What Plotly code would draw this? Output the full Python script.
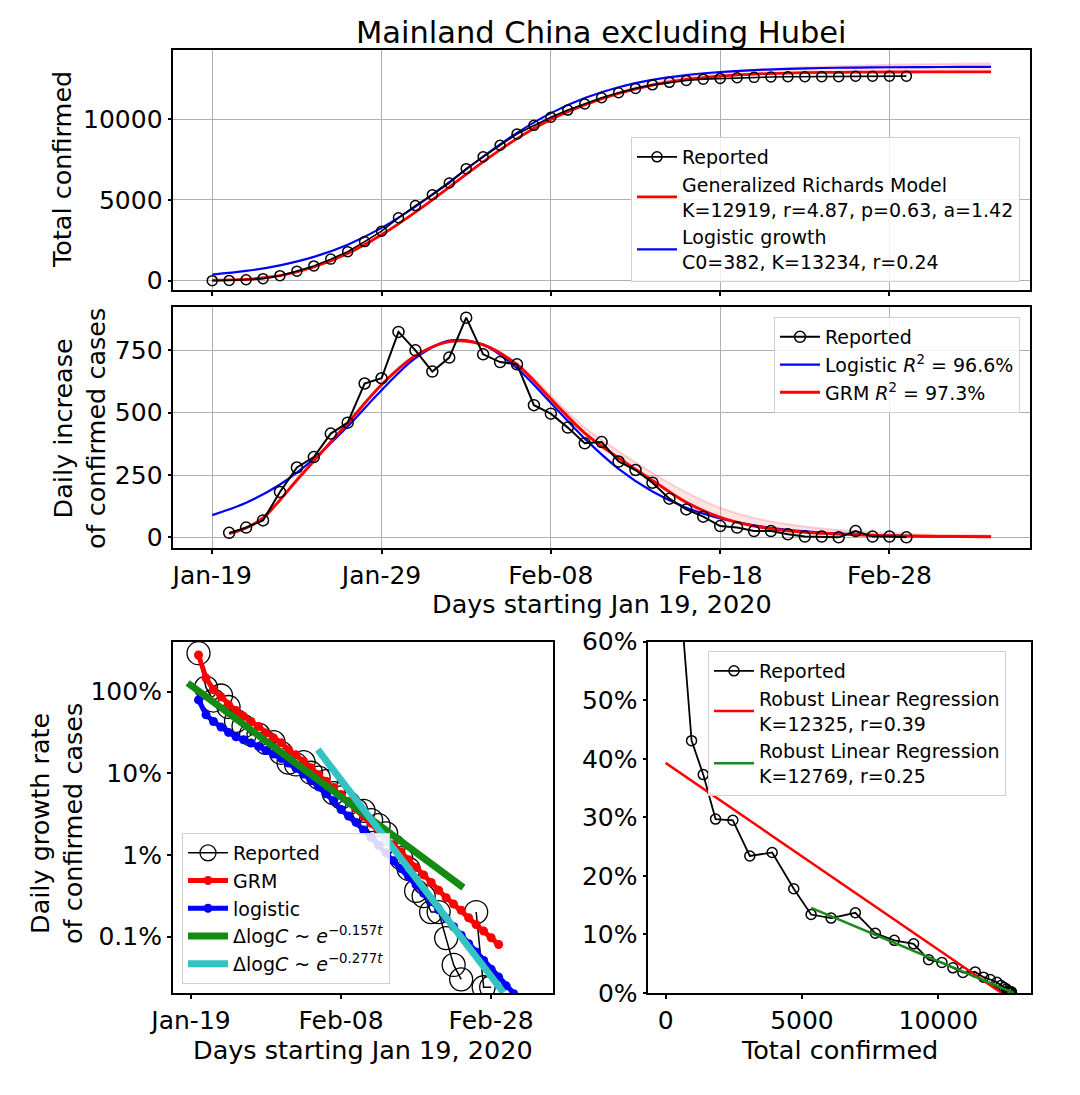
import plotly.graph_objects as go

FONT = "DejaVu Sans"

# ---------------- data ----------------
# Panel 1: cumulative confirmed cases (day 0 = Jan 19, 2020)
days_total = list(range(0, 42))
total_reported = [1, 19, 58, 127, 310, 592, 916, 1335, 1798, 2420, 3062, 3892, 4647, 5317,
                  6043, 6930, 7669, 8377, 9076, 9609, 10109, 10552, 10932, 11317, 11623,
                  11895, 12115, 12271, 12384, 12468, 12513, 12552, 12577, 12602, 12614,
                  12617, 12620, 12620, 12645, 12648, 12651, 12651]
model_days_top = list(range(0, 47, 2))
grm_total = [30, 85, 309, 848, 1688, 2840, 4243, 5793, 7353, 8785, 9968, 10868, 11580,
             12100, 12450, 12660, 12780, 12845, 12880, 12900, 12910, 12915, 12918, 12919]
grm_total_upper = [30, 85, 309, 848, 1688, 2840, 4243, 5793, 7353, 8800, 10010, 10950, 11680,
                   12210, 12600, 12860, 13030, 13150, 13240, 13300, 13350, 13390, 13420, 13440]
logistic_total = [382, 606, 953, 1475, 2231, 3267, 4582, 6103, 7681, 9142, 10365, 11299,
                  11966, 12419, 12718, 12910, 13031, 13108, 13156, 13185, 13204, 13215,
                  13222, 13227]

# Panel 2: daily increase
days_daily = list(range(1, 42))
daily_reported = [18, 39, 68, 182, 280, 322, 416, 460, 617, 638, 824, 750, 665, 721, 881,
                  734, 703, 694, 530, 496, 440, 377, 382, 304, 270, 219, 155, 112, 83, 45,
                  39, 25, 25, 12, 3, 3, 0, 25, 3, 3, 0]
logistic_daily_days = list(range(0, 47, 2))
logistic_daily = [89, 139, 212, 315, 445, 590, 719, 789, 773, 678, 539, 396, 275, 184, 119,
                  76, 48, 30, 19, 12, 7, 4.5, 2.8, 1.7]
grm_daily_days = [1, 2, 3, 4, 5, 6, 8, 10, 12, 14, 16, 18, 20, 22, 24, 26, 28, 30, 32, 34,
                  36, 38, 40, 42, 44, 46]
grm_daily = [15, 38, 78, 150, 230, 306, 458, 612, 728, 785, 772, 692, 555, 418, 318, 228,
             140, 80, 45, 26, 16, 10, 6, 4, 3, 2]
grm_daily_upper = [15, 38, 78, 150, 230, 306, 458, 612, 728, 785, 775, 700, 570, 440, 345,
                   258, 180, 118, 78, 52, 35, 24, 17, 12, 9, 7]

# Panel 3: daily growth rate (log scale)
rate_days = list(range(1, 42))
rate_reported = [2.944, 1.116, 0.776, 0.894, 0.647, 0.437, 0.376, 0.298, 0.297, 0.2355,
                 0.2398, 0.1773, 0.1346, 0.128, 0.137, 0.1013, 0.0883, 0.0801, 0.0571,
                 0.0507, 0.0429, 0.0353, 0.0346, 0.0267, 0.0231, 0.0184, 0.0128, 0.00915,
                 0.00673, 0.00363, 0.00313, 0.002, 0.002, 0.00096, 0.00045, 0.0003, None,
                 0.002, 0.00024, 0.00024, None]
grm_rate_days = list(range(1, 42))
grm_rate = [2.8, 1.46, 1.05, 0.86, 0.69, 0.586, 0.50, 0.43, 0.374, 0.31, 0.27, 0.236,
            0.194, 0.168, 0.14, 0.117, 0.096, 0.08, 0.067, 0.055, 0.045, 0.037, 0.030,
            0.0245, 0.020, 0.0164, 0.0133, 0.0108, 0.0087, 0.007, 0.0057, 0.0046, 0.0037,
            0.003, 0.0025, 0.0021, 0.0017, 0.0014, 0.00117, 0.00097, 0.0008]
logistic_rate_days = list(range(1, 45))
logistic_rate = [0.79, 0.52, 0.43, 0.367, 0.316, 0.28, 0.257, 0.234, 0.213, 0.19, 0.172,
                 0.152, 0.133, 0.115, 0.098, 0.082, 0.068, 0.056, 0.046, 0.036, 0.030,
                 0.025, 0.0202, 0.0163, 0.0131, 0.0106, 0.0085, 0.0068, 0.0054, 0.0043,
                 0.0034, 0.0027, 0.00213, 0.00168, 0.00132, 0.00104, 0.00082, 0.00065,
                 0.00051, 0.0004, 0.00032, 0.00025, 0.0002, 0.00016]
fit157_days = [-0.44, 36.3]
fit157_rate = [1.27, 0.00398]
fit277_days = [16.9, 41.64]
fit277_rate = [0.194, 0.000207]

# Panel 4: growth rate vs total confirmed
rr_total = [19, 58, 126, 308, 588, 952, 1380, 1832, 2466, 3088, 3907, 4700, 5336, 6069,
            6960, 7692, 8388, 9095, 9645, 10134, 10537, 10904, 11355, 11660, 11905, 12150,
            12300, 12410, 12500, 12545, 12585, 12610, 12635, 12647, 12650, 12653, 12653,
            12678, 12681, 12684, 12684]
rr_rate = [2.944, 1.116, 0.776, 0.894, 0.647, 0.431, 0.373, 0.297, 0.295, 0.234, 0.240,
           0.178, 0.134, 0.128, 0.137, 0.102, 0.090, 0.084, 0.057, 0.052, 0.043, 0.035,
           0.036, 0.027, 0.023, 0.0184, 0.0128, 0.0092, 0.0067, 0.0036, 0.0031, 0.0020,
           0.0020, 0.0010, 0.0002, 0.0002, 0.0, 0.0020, 0.0002, 0.0002, 0.0]
rlr1_total = [0, 12325]
rlr1_rate = [0.393, 0.0]
rlr2_total = [5336, 12769]
rlr2_rate = [0.1455, 0.0]

date_ticks_top = [0, 10, 20, 30, 40]
date_labels_top = ["Jan-19", "Jan-29", "Feb-08", "Feb-18", "Feb-28"]
date_ticks_bl = [0, 20, 40]
date_labels_bl = ["Jan-19", "Feb-08", "Feb-28"]

# ---------------- figure ----------------
fig = go.Figure()
W, H = 1080, 1095
SHIFT = 8  # the page body adds an 8px offset

def px_x(p):
    return (p - SHIFT) / W

def px_y(p):
    return 1 - (p - SHIFT) / H

# --- top panel ---
fig.add_trace(go.Scatter(x=model_days_top, y=grm_total, mode="lines", line=dict(color="rgba(255,0,0,0)", width=0, shape="spline"),
                         showlegend=False, hoverinfo="skip", xaxis="x", yaxis="y"))
fig.add_trace(go.Scatter(x=model_days_top, y=grm_total_upper, mode="lines", fill="tonexty",
                         fillcolor="rgba(255,120,120,0.20)", line=dict(color="rgba(255,0,0,0.16)", width=2, shape="spline"),
                         showlegend=False, hoverinfo="skip", xaxis="x", yaxis="y"))
fig.add_trace(go.Scatter(x=model_days_top, y=logistic_total, mode="lines", line=dict(color="#0000ff", width=2.2, shape="spline"),
                         name="Logistic growth<br>C0=382, K=13234, r=0.24", legend="legend", legendrank=3, xaxis="x", yaxis="y"))
fig.add_trace(go.Scatter(x=model_days_top, y=grm_total, mode="lines", line=dict(color="#ff0000", width=2.8, shape="spline"),
                         name="Generalized Richards Model<br>K=12919, r=4.87, p=0.63, a=1.42", legend="legend", legendrank=2,
                         xaxis="x", yaxis="y"))
fig.add_trace(go.Scatter(x=days_total, y=total_reported, mode="lines+markers", line=dict(color="black", width=1.6),
                         marker=dict(symbol="circle-open", size=10, color="black", line=dict(width=1.5)),
                         name="Reported", legend="legend", legendrank=1, xaxis="x", yaxis="y"))

# --- middle panel ---
fig.add_trace(go.Scatter(x=grm_daily_days, y=grm_daily, mode="lines", line=dict(color="rgba(255,0,0,0)", width=0, shape="spline"),
                         showlegend=False, hoverinfo="skip", xaxis="x2", yaxis="y2"))
fig.add_trace(go.Scatter(x=grm_daily_days, y=grm_daily_upper, mode="lines", fill="tonexty",
                         fillcolor="rgba(255,120,120,0.20)", line=dict(color="rgba(255,0,0,0.16)", width=2, shape="spline"),
                         showlegend=False, hoverinfo="skip", xaxis="x2", yaxis="y2"))
fig.add_trace(go.Scatter(x=logistic_daily_days, y=logistic_daily, mode="lines", line=dict(color="#0000ff", width=2.2, shape="spline"),
                         name="Logistic <i>R</i><sup>2</sup> = 96.6%", legend="legend2", legendrank=2, xaxis="x2", yaxis="y2"))
fig.add_trace(go.Scatter(x=grm_daily_days, y=grm_daily, mode="lines", line=dict(color="#ff0000", width=3, shape="spline"),
                         name="GRM <i>R</i><sup>2</sup> = 97.3%", legend="legend2", legendrank=3, xaxis="x2", yaxis="y2"))
fig.add_trace(go.Scatter(x=days_daily, y=daily_reported, mode="lines+markers", line=dict(color="black", width=2),
                         marker=dict(symbol="circle-open", size=11, color="black", line=dict(width=1.5)),
                         name="Reported", legend="legend2", legendrank=1, xaxis="x2", yaxis="y2"))

# --- bottom-left panel ---
fig.add_trace(go.Scatter(x=rate_days, y=rate_reported, mode="lines+markers", line=dict(color="black", width=1.5),
                         marker=dict(symbol="circle-open", size=23, color="black", line=dict(width=1.3)),
                         name="Reported", legend="legend3", legendrank=1, xaxis="x3", yaxis="y3"))
fig.add_trace(go.Scatter(x=grm_rate_days, y=grm_rate, mode="lines+markers", line=dict(color="#ff0000", width=5),
                         marker=dict(symbol="circle", size=9, color="#ff0000"),
                         name="GRM", legend="legend3", legendrank=2, xaxis="x3", yaxis="y3"))
fig.add_trace(go.Scatter(x=logistic_rate_days, y=logistic_rate, mode="lines+markers", line=dict(color="#0000ff", width=5),
                         marker=dict(symbol="circle", size=9, color="#0000ff"),
                         name="logistic", legend="legend3", legendrank=3, xaxis="x3", yaxis="y3"))
fig.add_trace(go.Scatter(x=fit157_days, y=fit157_rate, mode="lines", line=dict(color="#138a13", width=7),
                         name="Δlog<i>C</i> ~ <i>e</i><sup>−0.157<i>t</i></sup>", legend="legend3", legendrank=4,
                         xaxis="x3", yaxis="y3"))
fig.add_trace(go.Scatter(x=fit277_days, y=fit277_rate, mode="lines", line=dict(color="#33c3c3", width=7),
                         name="Δlog<i>C</i> ~ <i>e</i><sup>−0.277<i>t</i></sup>", legend="legend3", legendrank=5,
                         xaxis="x3", yaxis="y3"))

# --- bottom-right panel ---
fig.add_trace(go.Scatter(x=rr_total, y=rr_rate, mode="lines+markers", line=dict(color="black", width=1.8),
                         marker=dict(symbol="circle-open", size=10, color="black", line=dict(width=1.5)),
                         name="Reported", legend="legend4", legendrank=1, xaxis="x4", yaxis="y4"))
fig.add_trace(go.Scatter(x=rlr1_total, y=rlr1_rate, mode="lines", line=dict(color="#ff0000", width=2.5),
                         name="Robust Linear Regression<br>K=12325, r=0.39", legend="legend4", legendrank=2,
                         xaxis="x4", yaxis="y4"))
fig.add_trace(go.Scatter(x=rlr2_total, y=rlr2_rate, mode="lines", line=dict(color="#1a8a1a", width=2.5),
                         name="Robust Linear Regression<br>K=12769, r=0.25", legend="legend4", legendrank=3,
                         xaxis="x4", yaxis="y4"))

tickfont = dict(family=FONT, size=25, color="black")
base = dict(showline=True, linecolor="black", linewidth=1.5, mirror=True, ticks="outside",
            ticklen=4, tickwidth=1.5, tickcolor="black", tickfont=tickfont, zeroline=False,
            automargin=False)
grid = dict(showgrid=True, gridcolor="#b0b0b0", gridwidth=1.3)
nogrid = dict(showgrid=False)

xdom_top = [px_x(173.3), px_x(1030)]
legend_style = dict(font=dict(family=FONT, size=19, color="black"), bgcolor="rgba(255,255,255,0.85)",
                    bordercolor="#d0d0d0", borderwidth=1, tracegroupgap=0, traceorder="normal",
                    itemwidth=40)

fig.update_layout(
    width=W, height=H, autosize=False,
    margin=dict(l=0, r=0, t=0, b=0, pad=0, autoexpand=False),
    paper_bgcolor="white", plot_bgcolor="white",
    font=dict(family=FONT, color="black"),
    xaxis=dict(domain=xdom_top, anchor="y", range=[-2.3, 48.3], tickvals=date_ticks_top,
               showticklabels=False, **base, **grid),
    yaxis=dict(domain=[px_y(290), px_y(50)], anchor="x", range=[-575, 14270],
               tickvals=[0, 5000, 10000], ticktext=["0", "5000", "10000"], **base, **grid),
    xaxis2=dict(domain=xdom_top, anchor="y2", range=[-2.3, 48.3], tickvals=date_ticks_top,
                ticktext=date_labels_top, **base, **grid),
    yaxis2=dict(domain=[px_y(548.3), px_y(306.7)], anchor="x2", range=[-44, 925],
                tickvals=[0, 250, 500, 750], ticktext=["0", "250", "500", "750"], **base, **grid),
    xaxis3=dict(domain=[px_x(172.7), px_x(552.7)], anchor="y3", range=[-2.44, 48.2],
                tickvals=date_ticks_bl, ticktext=date_labels_bl, **base, **nogrid),
    yaxis3=dict(domain=[px_y(993), px_y(641.7)], anchor="x3", type="log", range=[-3.69, 0.61],
                tickvals=[0.001, 0.01, 0.1, 1], ticktext=["0.1%", "1%", "10%", "100%"],
                **base, **nogrid),
    xaxis4=dict(domain=[px_x(648.3), px_x(1030.7)], anchor="y4", range=[-635, 13390],
                tickvals=[0, 5000, 10000], ticktext=["0", "5000", "10000"], **base, **nogrid),
    yaxis4=dict(domain=[px_y(993), px_y(641.7)], anchor="x4", range=[0, 0.6],
                tickvals=[0, 0.1, 0.2, 0.3, 0.4, 0.5, 0.6],
                ticktext=["0%", "10%", "20%", "30%", "40%", "50%", "60%"], **base, **nogrid),
    legend=dict(x=px_x(1020), xanchor="right", y=px_y(282), yanchor="bottom", **legend_style),
    legend2=dict(x=px_x(1020), xanchor="right", y=px_y(317), yanchor="top", **legend_style),
    legend3=dict(x=px_x(182), xanchor="left", y=px_y(984), yanchor="bottom", **legend_style),
    legend4=dict(x=px_x(708), xanchor="left", y=px_y(651), yanchor="top", **legend_style),
    showlegend=True,
)

ann_font = dict(family=FONT, size=25.5, color="black")
annotations = [
    dict(text="Mainland China excluding Hubei", x=px_x(601.5), y=px_y(32), font=dict(family=FONT, size=30.5, color="black")),
    dict(text="Total confirmed", x=px_x(62), y=px_y(170), textangle=-90, font=ann_font),
    dict(text="Daily increase<br>of confirmed cases", x=px_x(79), y=px_y(429), textangle=-90, font=ann_font),
    dict(text="Days starting Jan 19, 2020", x=px_x(601.5), y=px_y(604), font=ann_font),
    dict(text="Daily growth rate<br>of confirmed cases", x=px_x(56), y=px_y(824), textangle=-90, font=ann_font),
    dict(text="Days starting Jan 19, 2020", x=px_x(363), y=px_y(1050), font=ann_font),
    dict(text="Total confirmed", x=px_x(839), y=px_y(1050), font=ann_font),
]
for a in annotations:
    a.update(xref="paper", yref="paper", showarrow=False, xanchor="center", yanchor="middle")
fig.update_layout(annotations=annotations)

fig.write_html("out.html")
